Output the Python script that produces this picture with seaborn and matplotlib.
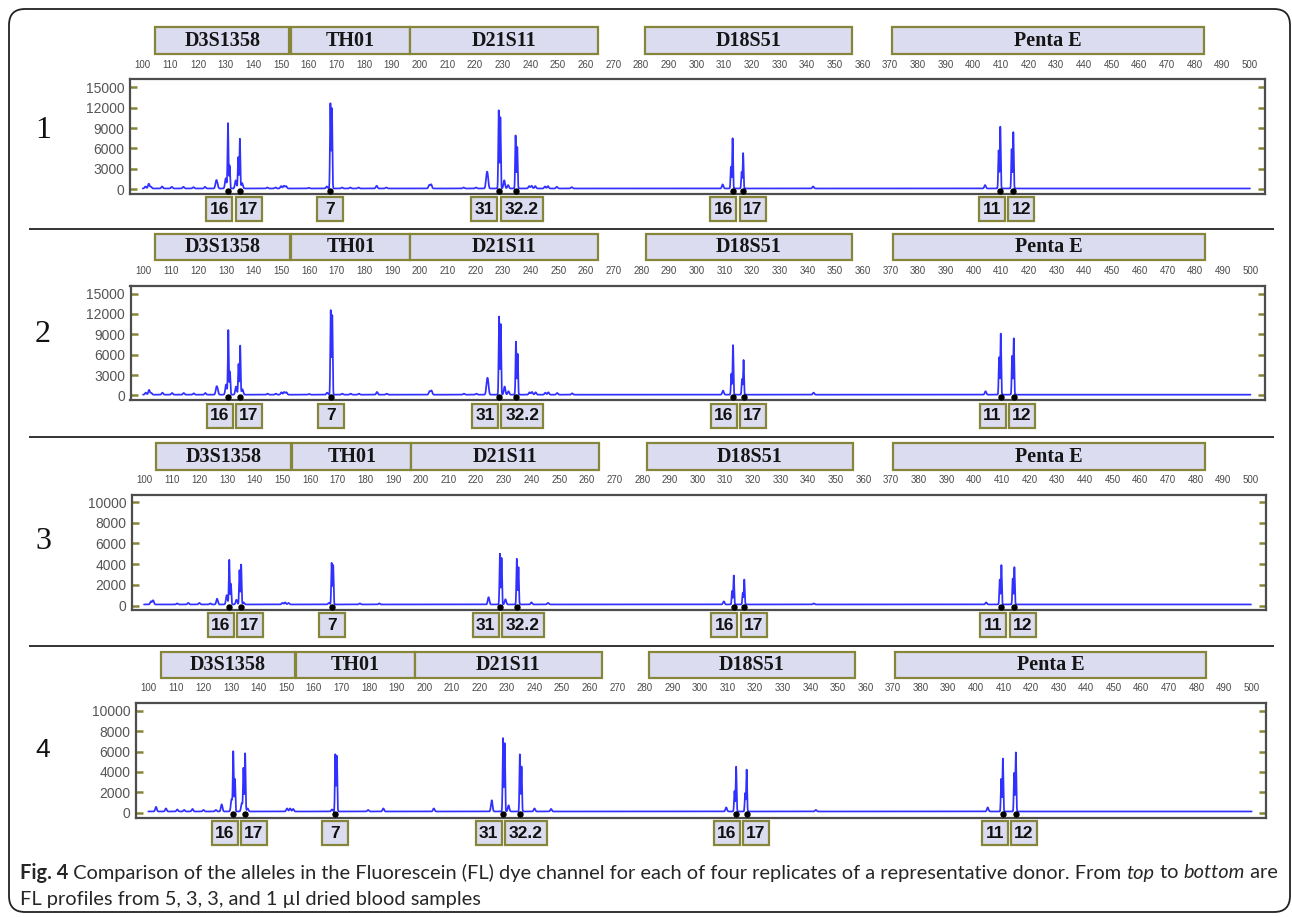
import numpy as np
import pandas as pd
import matplotlib
matplotlib.use("Agg")
import matplotlib.pyplot as plt
import seaborn as sns
from matplotlib.patches import Rectangle, FancyBboxPatch

# ---------------- data ----------------
LOCI = ["D3S1358", "TH01", "D21S11", "D18S51", "Penta E"]
LOCUS_START = [104.5, 153.6, 196.6, 281.6, 370.7]
LOCUS_END = [153.0, 196.6, 264.5, 356.1, 483.4]

ALLELE_LABELS = ["16", "17", "7", "31", "32.2", "16", "17", "11", "12"]
ALLELE_LOCUS = [0, 0, 1, 2, 2, 3, 3, 4, 4]
ALLELE_SIZE = [130.8, 135.1, 167.8, 228.6, 234.7, 313.1, 316.9, 409.8, 414.5]
SHOULDER_SIZE = [131.4, 134.5, 168.35, 229.2, 235.3, 312.5, 316.35, 409.2, 413.9]

SIZE_TICKS = list(range(100, 501, 10))

PANEL_NAMES = ["1", "2", "3", "4"]
PANEL_YTICKS = [
    [0, 3000, 6000, 9000, 12000, 15000],
    [0, 3000, 6000, 9000, 12000, 15000],
    [0, 2000, 4000, 6000, 8000, 10000],
    [0, 2000, 4000, 6000, 8000, 10000],
]

MAIN_H = [
    [9600, 7300, 12500, 11500, 7800, 7400, 5200, 9100, 8300],
    [9500, 7200, 12400, 11500, 7800, 7300, 5100, 9000, 8300],
    [4300, 3850, 4000, 4900, 4400, 2800, 2400, 3800, 3600],
    [5800, 5700, 5600, 7200, 5600, 4400, 4100, 5200, 5800],
]
SHOULDER_H = [
    [3400, 4600, 11800, 10500, 6100, 3200, 2400, 5600, 5800],
    [3400, 4500, 11700, 10400, 6000, 3100, 2300, 5500, 5700],
    [2000, 3300, 3800, 4500, 3600, 1300, 1100, 2400, 2500],
    [3200, 4200, 5450, 6700, 4400, 2000, 1800, 3200, 3800],
]

MINOR_SIZE_12 = [101.0, 102.2, 103.0, 107.0, 110.5, 114.7, 118.3, 122.5, 126.5, 126.9,
                 130.0, 133.6, 135.9, 145.0, 148.0, 150.0, 151.0, 151.8, 160.0, 166.5,
                 172.0, 175.0, 178.0, 184.5, 188.0, 203.5, 204.2, 215.9, 220.4, 224.2,
                 224.6, 230.6, 232.0, 239.6, 240.5, 241.8, 245.3, 246.4, 249.6, 255.0,
                 309.5, 342.2, 404.3]
MINOR_H_1 = [300, 700, 250, 300, 250, 250, 200, 250, 900, 700,
             1500, 1200, 800, 150, 150, 350, 400, 350, 100, 300,
             150, 150, 150, 400, 150, 500, 600, 150, 150, 1500,
             1700, 1200, 500, 350, 400, 350, 300, 350, 250, 200,
             600, 300, 500]
MINOR_H_2 = [300, 700, 250, 300, 250, 250, 200, 250, 900, 700,
             1500, 1200, 800, 150, 150, 350, 400, 350, 100, 300,
             150, 150, 150, 400, 150, 500, 600, 150, 150, 1500,
             1700, 1200, 500, 350, 400, 350, 300, 350, 250, 200,
             600, 300, 500]
MINOR_SIZE_3 = [102.5, 103.3, 112.0, 116.0, 120.0, 124.0, 126.4, 129.9, 133.4, 136.0,
                150.0, 151.0, 152.2, 166.8, 178.0, 185.0, 224.5, 230.6, 240.0, 246.0,
                309.5, 342.0, 404.3]
MINOR_H_3 = [300, 400, 100, 150, 150, 100, 550, 900, 450, 200,
             150, 200, 150, 150, 100, 100, 700, 500, 200, 150,
             300, 100, 200]
MINOR_SIZE_4 = [102.8, 106.4, 110.5, 113.0, 116.0, 120.0, 124.5, 126.6, 130.2, 133.9,
                136.0, 150.3, 151.4, 152.5, 166.6, 179.7, 185.2, 203.5, 224.5, 230.6,
                240.0, 246.0, 309.5, 342.0, 404.3]
MINOR_H_4 = [450, 300, 200, 150, 250, 150, 150, 700, 1200, 800,
             300, 300, 300, 250, 200, 150, 300, 300, 1100, 600,
             300, 250, 400, 150, 400]
MINOR_SIZE = [MINOR_SIZE_12, MINOR_SIZE_12, MINOR_SIZE_3, MINOR_SIZE_4]
MINOR_H = [MINOR_H_1, MINOR_H_2, MINOR_H_3, MINOR_H_4]
BASELINE_RFU = 120

# ---------------- layout (pixels) ----------------
W, H = 1292, 917
PANEL_BOX = [(130.0, 79.3, 1264.7, 194.3), (130.5, 285.5, 1265.0, 400.5),
             (131.7, 495.0, 1266.0, 610.3), (136.0, 702.7, 1265.7, 817.7)]
P100 = [142.7, 143.0, 144.0, 148.3]
P500 = [1250.0, 1250.5, 1251.0, 1251.7]
HEADER_Y = [(27.3, 54.3), (233.5, 260.0), (443.3, 470.0), (651.7, 678.0)]
Y0_PX = [189.3, 395.5, 605.7, 812.7]
YTOP_PX = [87.3, 293.5, 502.0, 710.7]
NUM_Y = [130, 334, 541.7, 750]
SEPARATORS = [228.7, 437.0, 645.7]

TRACE = "#3030ff"
OLIVE = "#86863a"
LAVENDER = "#dcdcf0"

sns.set_theme(style="white")
plt.rcParams["font.family"] = ["Liberation Sans", "DejaVu Sans"]

fig = plt.figure(figsize=(W / 100, H / 100), dpi=100)

axes = []
for i in range(4):
    l, t, r, b = PANEL_BOX[i]
    ax = fig.add_axes([l / W, 1 - b / H, (r - l) / W, (b - t) / H])
    s = (P500[i] - P100[i]) / 400.0
    xlim = (100 - (P100[i] - l) / s, 500 + (r - P500[i]) / s)
    ymax_tick = PANEL_YTICKS[i][-1]
    ppu = (Y0_PX[i] - YTOP_PX[i]) / ymax_tick

    # build the trace from the read peak list
    x = np.arange(100.0, 500.0001, 0.03)
    y = np.full_like(x, BASELINE_RFU, dtype=float)
    sig = 0.16
    for p, hgt in zip(ALLELE_SIZE, MAIN_H[i]):
        y += hgt * np.exp(-0.5 * ((x - p) / sig) ** 2)
    for p, hgt in zip(SHOULDER_SIZE, SHOULDER_H[i]):
        y += hgt * np.exp(-0.5 * ((x - p) / sig) ** 2)
    for p, hgt in zip(MINOR_SIZE[i], MINOR_H[i]):
        y += hgt * np.exp(-0.5 * ((x - p) / 0.28) ** 2)
    df = pd.DataFrame({"size": x, "rfu": y})
    sns.lineplot(data=df, x="size", y="rfu", ax=ax, color=TRACE, linewidth=1.25,
                 estimator=None, sort=False)

    # allele call dots
    ax.plot(ALLELE_SIZE, [0.03] * len(ALLELE_SIZE), "o", color="black", ms=3.6,
            transform=ax.get_xaxis_transform(), clip_on=False, zorder=5)

    ax.set_xlabel("")
    ax.set_ylabel("")
    ax.set_yticks(PANEL_YTICKS[i])
    ax.set_yticklabels([str(v) for v in PANEL_YTICKS[i]])
    ax.set_xticks(SIZE_TICKS)
    ax.set_xticklabels([str(v) for v in SIZE_TICKS])
    ax.set_xlim(*xlim)
    ax.set_ylim(-(b - Y0_PX[i]) / ppu, ymax_tick + (YTOP_PX[i] - t) / ppu)
    ax.xaxis.set_ticks_position("top")
    ax.tick_params(axis="x", length=0, labelsize=7, labelcolor="#4a4a4a", pad=7,
                   top=True, bottom=False, labeltop=True, labelbottom=False)
    ax.tick_params(axis="y", direction="in", length=5, width=1.8, color=OLIVE,
                   left=True, right=True, labelleft=True, labelright=False,
                   labelsize=10, labelcolor="#555555", pad=4)
    for sp in ax.spines.values():
        sp.set_visible(True)
        sp.set_color("#4d4d4d")
        sp.set_linewidth(1.6)
    ax.grid(False)
    ax.set_facecolor("white")
    axes.append(ax)

# overlay in pixel coordinates
ov = fig.add_axes([0, 0, 1, 1], zorder=10)
ov.set_xlim(0, W)
ov.set_ylim(H, 0)
ov.axis("off")
ov.patch.set_alpha(0)


def px(ax, bp):
    return ax.transData.transform((bp, 0))[0]


for i, ax in enumerate(axes):
    ht, hb = HEADER_Y[i]
    for name, a, e in zip(LOCI, LOCUS_START, LOCUS_END):
        x0, x1 = px(ax, a), px(ax, e)
        ov.add_patch(Rectangle((x0, ht), x1 - x0, hb - ht, fc=LAVENDER, ec=OLIVE, lw=1.6))
        ov.text((x0 + x1) / 2, (ht + hb) / 2 + 0.5, name, ha="center", va="center",
                family="Liberation Serif", weight="bold", fontsize=14.5, color="#151515")

    # allele boxes
    btop = PANEL_BOX[i][3] + 3
    bh = 24
    gap = 3.3
    for li in range(len(LOCI)):
        idx = [k for k in range(len(ALLELE_LABELS)) if ALLELE_LOCUS[k] == li]
        widths = [26 if len(ALLELE_LABELS[k]) <= 2 else 42 for k in idx]
        centers = [px(ax, ALLELE_SIZE[k]) for k in idx]
        mid = sum(centers) / len(centers)
        total = sum(widths) + gap * (len(widths) - 1)
        left = mid - total / 2
        for k, w in zip(idx, widths):
            ov.add_patch(Rectangle((left, btop), w, bh, fc=LAVENDER, ec=OLIVE, lw=1.6))
            ov.text(left + w / 2, btop + bh / 2 + 0.5, ALLELE_LABELS[k], ha="center",
                    va="center", weight="bold", fontsize=12.5, color="#111111")
            left += w + gap

    fam = "Liberation Sans" if i == 3 else "Liberation Serif"
    ov.text(43, NUM_Y[i], PANEL_NAMES[i], ha="center", va="center", family=fam,
            fontsize=19 if i == 3 else 23, color="#111111")

for yy in SEPARATORS:
    ov.plot([29, 1274], [yy, yy], color="#333333", lw=1.4, solid_capstyle="butt")

ov.add_patch(FancyBboxPatch((9, 9), 1281, 903, boxstyle="round,pad=0,rounding_size=16",
                            fc="none", ec="#222222", lw=1.3))

# caption
renderer = fig.canvas.get_renderer()
cap_font = "Lato"
line1 = [("Fig. 4", "bold", "normal"),
         (" Comparison of the alleles in the Fluorescein (FL) dye channel for each of four "
          "replicates of a representative donor. From ", "normal", "normal"),
         ("top", "normal", "italic"), (" to ", "normal", "normal"),
         ("bottom", "normal", "italic"), (" are", "normal", "normal")]
line2 = [("FL profiles from 5, 3, 3, and 1 \u00b5l dried blood samples", "normal", "normal")]


def draw_line(pieces, x0, yc, size):
    xcur = x0
    for txt, wt, st in pieces:
        t = ov.text(xcur, yc, txt, ha="left", va="center", family=[cap_font, "DejaVu Sans"],
                    weight=wt, style=st, fontsize=size, color="#262626")
        bb = t.get_window_extent(renderer=renderer)
        xcur += bb.width
    return xcur - x0


probe = []
for txt, wt, st in line1:
    t = fig.text(0, 0, txt, family=[cap_font, "DejaVu Sans"], weight=wt, style=st, fontsize=12)
    probe.append(t.get_window_extent(renderer=renderer).width)
    t.remove()
size = 12 * (1275 - 20) / sum(probe)
draw_line(line1, 20, 873, size)
draw_line(line2, 20, 900, size)

fig.savefig("out.png", dpi=100, facecolor="white")
